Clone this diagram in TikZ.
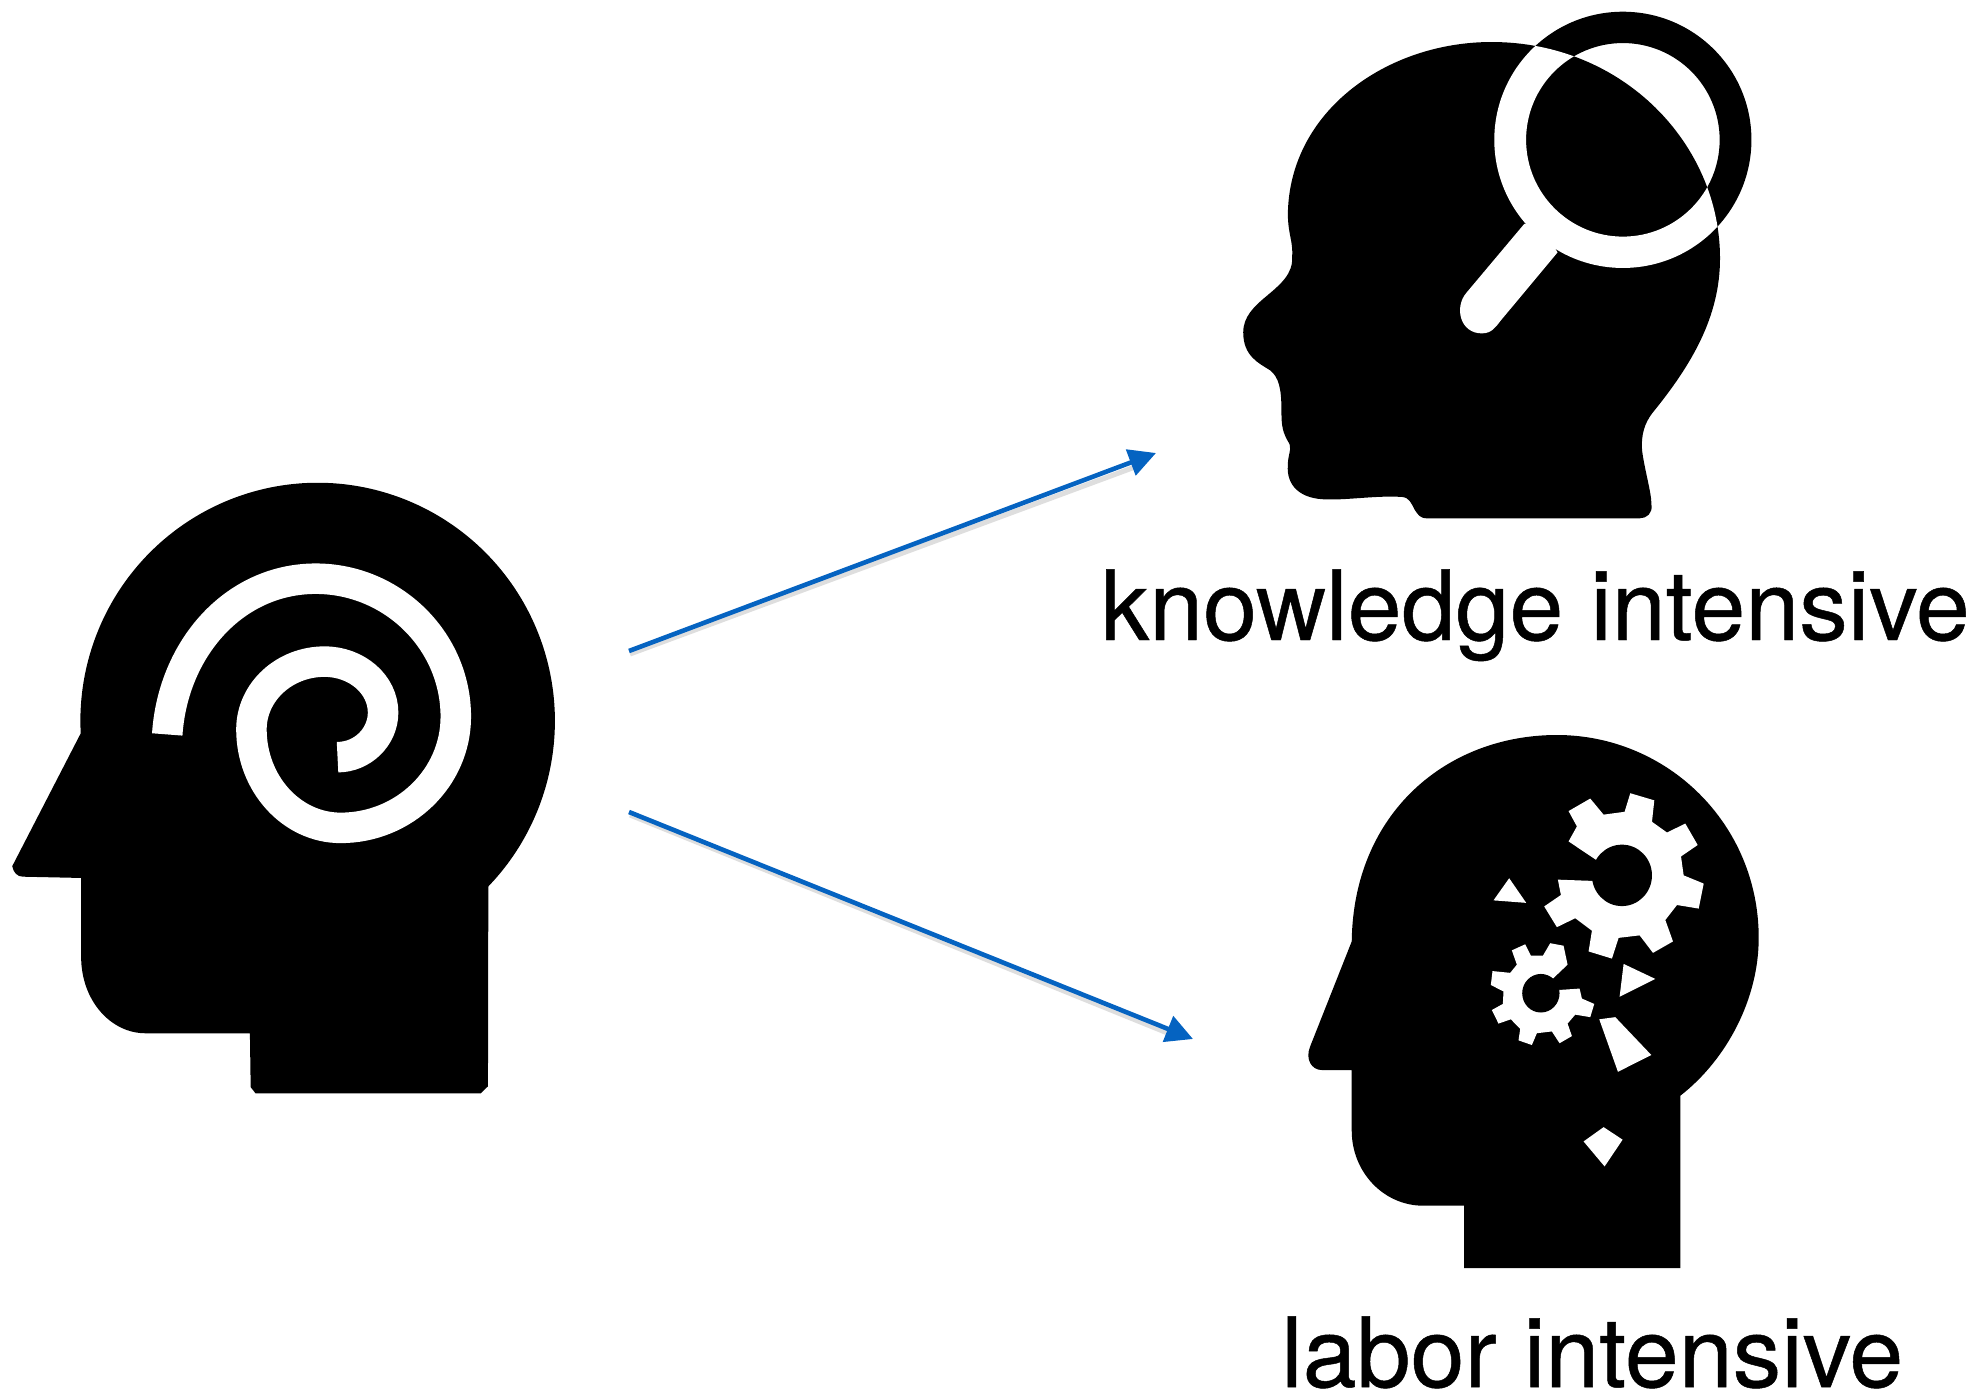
\documentclass[tikz,border=0pt]{standalone}
\usepackage{fontspec}
\setmainfont{TeX Gyre Heros}
\newfontfamily\labelfont[FakeBold=0.5]{TeX Gyre Heros}
\usetikzlibrary{arrows.meta}
\definecolor{arrowblue}{HTML}{0563C1}
\tikzset{
  shape fill/.style={fill=black},
  cut fill/.style={fill=white},
  spiralstroke/.style={draw=white,line width=30.5pt,line cap=butt,line join=round},
  flow/.style={draw=arrowblue,line width=4.6pt,-{Triangle[length=27pt,width=27pt,fill=arrowblue]}},
  flowshadow/.style={draw=black,opacity=0.13,line width=5pt},
  labeltext/.style={anchor=base west,inner sep=0pt,font=\labelfont\fontsize{97}{100}\selectfont},
}
\newcommand{\headBpath}{(190,620) .. controls (195,320) and (470,122) .. (760,122)
 .. controls (1130,122) and (1400,420) .. (1400,750)
 .. controls (1400,920) and (1320,1060) .. (1210,1200)
 .. controls (1190,1228) and (1178,1260) .. (1182,1310)
 .. controls (1190,1370) and (1208,1430) .. (1208,1465)
 .. controls (1212,1490) and (1195,1505) .. (1175,1505)
 -- (580,1505)
 .. controls (560,1505) and (555,1495) .. (545,1480)
 .. controls (535,1460) and (530,1445) .. (510,1443)
 .. controls (440,1438) and (360,1452) .. (300,1450)
 .. controls (225,1450) and (185,1410) .. (190,1350)
 .. controls (190,1320) and (200,1310) .. (195,1290)
 .. controls (175,1255) and (172,1240) .. (172,1190)
 .. controls (172,1130) and (165,1095) .. (140,1075)
 .. controls (110,1055) and (65,1035) .. (65,965)
 .. controls (65,920) and (95,890) .. (130,860)
 .. controls (170,825) and (205,795) .. (202,745)
 .. controls (205,700) and (190,680) .. (190,620) -- cycle}
\newcommand{\ringpath}{(1128,406) ellipse [x radius=360,y radius=372] (1128,406) ellipse [x radius=271,y radius=281]}
\begin{document}
\begin{tikzpicture}[x=1pt,y=-1pt]
\useasboundingbox (0,0) rectangle (1981,1394);
\fill[white] (0,0) rectangle (1981,1394);

% spiral head
\begin{scope}[shift={(0,460)},x=0.3827pt,y=-0.4209pt]
\fill[shape fill] plot[domain=183:-44,samples=90,smooth] ({830+620*cos(\x)},{620-566*sin(\x)})
 -- (1275,1488) -- (1256,1505) -- (668,1505) -- (655,1490) -- (653,1362) -- (380,1362)
 .. controls (290,1362) and (212,1285) .. (212,1180) -- (212,993) -- (60,990)
 .. controls (45,990) and (35,980) .. (32,965) -- cycle;
\draw[spiralstroke] (437,652) .. controls (452,448) and (612,282) .. (825,282)
 .. controls (1026,282) and (1191,430) .. (1191,610)
 .. controls (1191,755) and (1056,874) .. (890,874)
 .. controls (762,874) and (657,769) .. (657,640)
 .. controls (657,551) and (743,479) .. (848,479)
 .. controls (932,479) and (1001,533) .. (1001,600)
 .. controls (1001,658) and (947,706) .. (882,706);
\end{scope}

% magnifier head
\begin{scope}[shift={(1220,0)},x=0.35714pt,y=-0.3444pt]
\fill[shape fill] \headBpath;
\fill[shape fill,even odd rule] \ringpath;
\begin{scope}
\clip \headBpath;
\fill[cut fill,even odd rule] \ringpath;
\fill[cut fill] (852,650) -- (690,850) .. controls (655,892) and (672,968) .. (733,968) .. controls (760,968) and (772,950) .. (785,932) -- (945,733) -- (900,650) -- cycle;
\end{scope}
\end{scope}

% gears head
\begin{scope}[shift={(1290,720)},x=0.3336pt,y=-0.35714pt]
\fill[shape fill] (185,620) .. controls (190,260) and (470,42) .. (800,42)
 .. controls (1130,42) and (1405,290) .. (1405,610)
 .. controls (1405,780) and (1310,950) .. (1170,1052)
 -- (1170,1535) -- (522,1535) -- (522,1360) -- (400,1360)
 .. controls (280,1360) and (185,1265) .. (185,1150) -- (185,980) -- (95,980)
 .. controls (65,980) and (45,950) .. (60,915) -- cycle;
\fill[cut fill] (950,412) -- (835,340) -- (860,298) -- (835,255) -- (900,220) -- (940,265) -- (1003,257) -- (1020,205) -- (1092,225) -- (1085,285) -- (1130,315) -- (1185,290) -- (1222,350) -- (1172,382) -- (1180,435) -- (1240,458) -- (1225,528) -- (1160,518) -- (1125,560) -- (1148,620) -- (1088,652) -- (1048,603) -- (985,610) -- (965,668) -- (895,648) -- (905,590) -- (855,555) -- (800,580) -- (762,522) -- (812,490) -- (803,447) -- (950,452) -- cycle;
\fill[shape fill] (995,435) ellipse [x radius=90,y radius=86];
\fill[cut fill] (770,740) -- (832,685) -- (820,632) -- (780,625) -- (758,660) -- (722,660) -- (705,628) -- (665,645) -- (680,685) -- (660,708) -- (607,703) -- (602,742) -- (640,760) -- (638,795) -- (605,812) -- (625,850) -- (662,838) -- (690,865) -- (685,897) -- (725,910) -- (740,877) -- (785,872) -- (808,905) -- (845,885) -- (832,850) -- (855,825) -- (900,832) -- (912,795) -- (875,780) -- (868,752) -- (790,757) -- cycle;
\fill[shape fill] (752,765) ellipse [x radius=56,y radius=54];
\fill[cut fill] (657,443) -- (708,512) -- (610,505) -- cycle;
\fill[cut fill] (1000,683) -- (1095,725) -- (988,775) -- cycle;
\fill[cut fill] (927,838) -- (975,832) -- (1083,938) -- (983,985) -- cycle;
\fill[cut fill] (880,1180) -- (940,1140) -- (997,1175) -- (943,1250) -- cycle;
\end{scope}

% connectors
\coordinate (startA) at (629,651);
\coordinate (endA) at (1156,453);
\coordinate (startB) at (629,812);
\coordinate (endB) at (1193,1039);
\coordinate (shadowA) at (630,654);
\coordinate (shadowAe) at (1135,467);
\coordinate (shadowB) at (630,815);
\coordinate (shadowBe) at (1170,1034);
\draw[flowshadow] (shadowA) -- (shadowAe);
\draw[flowshadow] (shadowB) -- (shadowBe);
\draw[flow] (startA) -- (endA);
\draw[flow] (startB) -- (endB);

% labels
\node[labeltext] (knowledge) at (1100.5,640) {knowledge intensive};
\node[labeltext] (labor) at (1281,1387) {labor intensive};
\end{tikzpicture}
\end{document}
